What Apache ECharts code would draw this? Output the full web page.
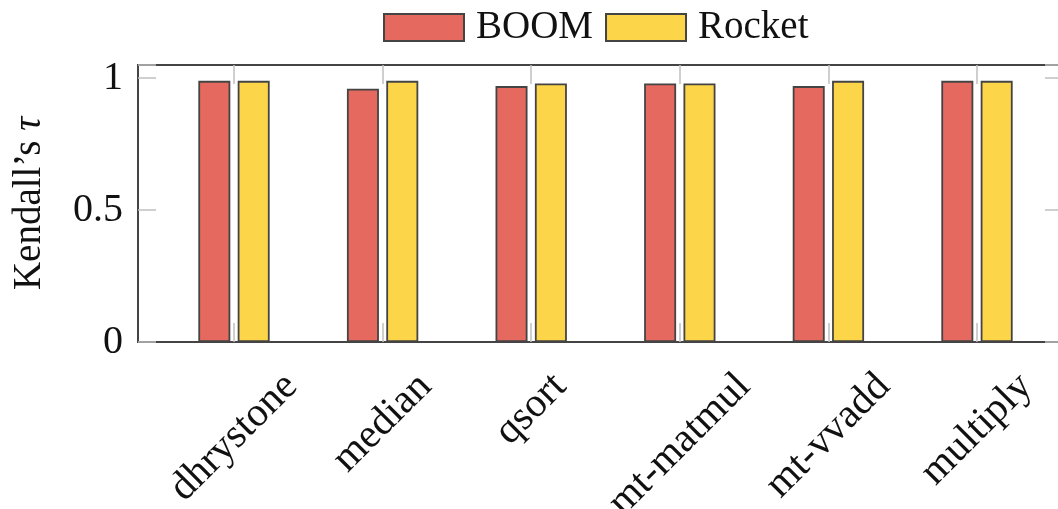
<!DOCTYPE html>
<html>
<head>
<meta charset="utf-8">
<script src="https://cdn.jsdelivr.net/npm/echarts@6/dist/echarts.min.js"></script>
<style>
  html, body { margin: 0; padding: 0; background: #fff; }
  #chart { width: 1058px; height: 509px; }
</style>
</head>
<body>
<div id="chart"></div>
<script>
// Benchmarks and per-core rank correlation (Kendall's tau)
const categories = ['dhrystone', 'median', 'qsort', 'mt-matmul', 'mt-vvadd', 'multiply'];
const boomValues = [0.99, 0.96, 0.97, 0.98, 0.97, 0.99];
const rocketValues = [0.99, 0.99, 0.98, 0.98, 0.99, 0.99];
const yTicks = [0, 0.5, 1];

const FONT = 'Liberation Serif';
const TEXT = '#111';
const TOP = 65, AXIS_Y = 342, BOTTOM = 509 - AXIS_Y;
const tickGray = '#c0c0c0';
const frameColor = '#444';

// Category names are drawn rotated by 45°, each centred under its tick,
// with the tops of the rotated names lined up a fixed gap below the axis.
const XFS = 41;
const LABEL_GAP = 26;
const measureCtx = document.createElement('canvas').getContext('2d');
measureCtx.font = XFS + 'px "' + FONT + '"';
const halfDiag = name => (measureCtx.measureText(name).width + XFS * 0.85) / (2 * Math.SQRT2);

const yLabel = v => (yTicks.some(t => Math.abs(t - v) < 1e-9) ? String(v) : '');

const chart = echarts.init(document.getElementById('chart'), null, { renderer: 'canvas' });

chart.setOption({
  backgroundColor: '#fff',
  animation: false,
  legend: {
    data: ['BOOM', 'Rocket'],
    icon: 'rect',
    left: 378,
    top: 3,
    itemWidth: 80,
    itemHeight: 27,
    itemGap: 12,
    textStyle: { fontFamily: FONT, fontSize: 39, color: TEXT, padding: [0, 0, 0, 7] }
  },
  grid: [
    // outer frame of the plot
    { left: 138, right: -5, top: TOP, bottom: BOTTOM, show: true, outerBoundsMode: 'none',
      borderColor: frameColor, borderWidth: 2, backgroundColor: 'transparent' },
    // category bands for the bars
    { left: 159.7, right: 6.7, top: TOP, bottom: BOTTOM, outerBoundsMode: 'none' }
  ],
  xAxis: [
    { gridIndex: 0, type: 'value', min: 0, max: 1, show: false },
    { gridIndex: 1, type: 'category', data: categories, position: 'bottom',
      axisLine: { show: false },
      axisTick: { show: true, alignWithLabel: true, inside: true, length: 19,
                  lineStyle: { color: tickGray, width: 1.5 } },
      axisLabel: { show: false },
      splitLine: { show: false } },
    { gridIndex: 1, type: 'category', data: categories, position: 'top',
      axisLine: { show: false },
      axisTick: { show: true, alignWithLabel: true, inside: true, length: 19,
                  lineStyle: { color: tickGray, width: 1.5 } },
      axisLabel: { show: false },
      splitLine: { show: false } }
  ],
  yAxis: [
    { gridIndex: 0, type: 'value', min: 0, max: 1.05, interval: 0.5, position: 'left',
      name: 'Kendall’s {i|τ}', nameLocation: 'middle', nameGap: 89,
      nameTextStyle: { fontFamily: FONT, fontSize: 39, color: TEXT,
                       rich: { i: { fontFamily: FONT, fontSize: 39, fontStyle: 'italic', color: TEXT } } },
      axisLine: { show: false },
      axisTick: { show: true, inside: true, length: 18, lineStyle: { color: tickGray, width: 1.5 } },
      axisLabel: { margin: 15, fontFamily: FONT, fontSize: 40, color: TEXT, formatter: yLabel },
      splitLine: { show: false } },
    { gridIndex: 0, type: 'value', min: 0, max: 1.05, interval: 0.5, position: 'right',
      axisLine: { show: false },
      axisTick: { show: true, inside: true, length: 18, lineStyle: { color: tickGray, width: 1.5 } },
      axisLabel: { show: false },
      splitLine: { show: false } },
    { gridIndex: 1, type: 'value', min: 0, max: 1.05, interval: 0.5, show: false }
  ],
  series: [
    { name: 'BOOM', type: 'bar', xAxisIndex: 1, yAxisIndex: 2, data: boomValues,
      barWidth: 32, barGap: '23%',
      itemStyle: { color: '#e5695f', borderColor: '#444', borderWidth: 1.8 } },
    { name: 'Rocket', type: 'bar', xAxisIndex: 1, yAxisIndex: 2, data: rocketValues,
      barWidth: 32, barGap: '23%',
      itemStyle: { color: '#fdd548', borderColor: '#444', borderWidth: 1.8 } },
    // rotated category names under the axis
    { name: 'names', type: 'custom', xAxisIndex: 1, yAxisIndex: 2, silent: true, clip: false, z: 5,
      data: categories.map((c, i) => [i, 0]),
      renderItem: (params, api) => {
        const i = api.value(0);
        const pt = api.coord([i, 0]);
        const name = categories[i];
        return {
          type: 'text',
          x: pt[0],
          y: pt[1] + LABEL_GAP + halfDiag(name),
          rotation: Math.PI / 4,
          style: { text: name, fontFamily: FONT, fontSize: XFS, fill: TEXT,
                   align: 'center', verticalAlign: 'middle' }
        };
      } }
  ]
});
</script>
</body>
</html>
